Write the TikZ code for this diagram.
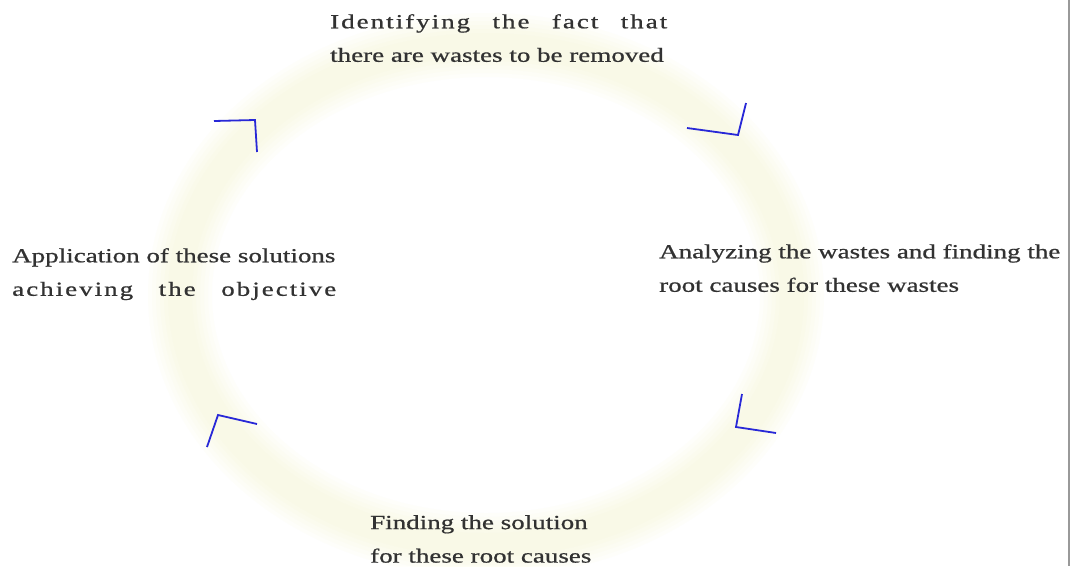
\documentclass[tikz,border=0pt]{standalone}
\usepackage{fontspec}
\setmainfont{Liberation Serif}
\newfontfamily\rfa[FakeStretch=1.35,FakeBold=0.8]{Liberation Serif}
\newfontfamily\rfals[FakeStretch=1.35,FakeBold=0.8,LetterSpace=10]{Liberation Serif}
\definecolor{ringc}{RGB}{248,248,195}
\definecolor{chevc}{RGB}{40,40,215}
\definecolor{txtc}{RGB}{50,50,50}
\tikzset{
  lbl/.style={inner sep=0pt, anchor=north west, align=left, text=txtc,
    font=\fontsize{20}{33.5}\selectfont},
  chev/.style={draw=chevc, line width=1.8pt, line join=miter},
  ringlayer/.style={draw=ringc, draw opacity=#1}
}
\begin{document}
\begin{tikzpicture}[x=1pt,y=-1pt]
\useasboundingbox (0,0) rectangle (1071,566);
\fill[white] (0,0) rectangle (1071,566);
% pale ring (blurred)
\foreach \w in {64,56,48,40,32,24}{
  \draw[ringlayer=0.07, line width=\w pt] (486,295) ellipse [x radius=306, y radius=250];
}
% texts
\node[lbl] (top) at (330,14) {\makebox[337pt][s]{\rfals Identifying the fact that}\\{\rfa there are wastes to be removed}};
\node[lbl] (right) at (659,244) {{\rfa Analyzing the wastes and finding the}\\{\rfa root causes for these wastes}};
\node[lbl] (bottom) at (370,515) {{\rfa Finding the solution}\\{\rfa for these root causes}};
\node[lbl] (left) at (12,248) {{\rfa Application of these solutions}\\\makebox[324pt][s]{\rfals achieving the objective}};
% chevrons
\coordinate (c1a) at (214,121); \coordinate (c1b) at (255,120); \coordinate (c1c) at (257,152);
\coordinate (c2a) at (687,128); \coordinate (c2b) at (738,135); \coordinate (c2c) at (746,103);
\coordinate (c3a) at (742,394); \coordinate (c3b) at (736,427); \coordinate (c3c) at (776,433);
\coordinate (c4a) at (207,447); \coordinate (c4b) at (218,415); \coordinate (c4c) at (257,424);
\draw[chev] (c1a) -- (c1b) -- (c1c);
\draw[chev] (c2a) -- (c2b) -- (c2c);
\draw[chev] (c3a) -- (c3b) -- (c3c);
\draw[chev] (c4a) -- (c4b) -- (c4c);
% right border line
\fill[white] (1069.5,0) rectangle (1071,566);
\draw[gray!80, line width=2pt] (1068.5,0) -- (1068.5,566);
\end{tikzpicture}
\end{document}
